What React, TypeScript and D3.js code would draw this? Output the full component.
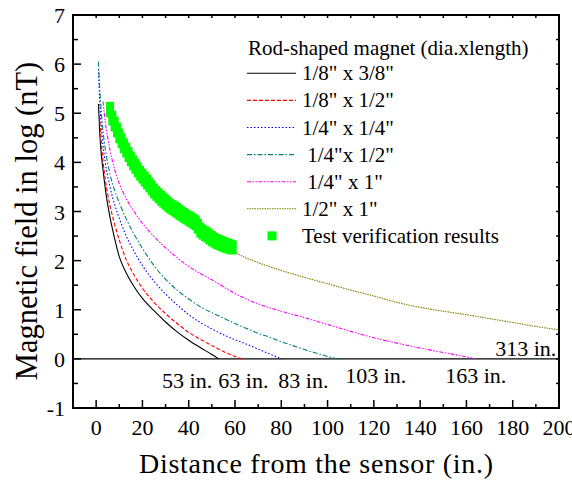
import React from "react";
import * as d3 from "d3";

// ---- data ----
const xTicksMajor = [0, 20, 40, 60, 80, 100, 120, 140, 160, 180, 200];
const yTicksMajor = [-1, 0, 1, 2, 3, 4, 5, 6, 7];

const blackD = [1, 1.5, 2, 3, 4, 6, 8, 10, 13, 16, 20, 25, 30, 35, 40, 45, 50, 53];
const blackV = [5.19, 4.65, 4.28, 3.84, 3.45, 2.88, 2.45, 2.08, 1.75, 1.5, 1.23, 0.98, 0.75, 0.55, 0.38, 0.23, 0.09, 0];

const redD = [1.5, 2, 3, 4, 6, 8, 10, 13, 16, 20, 25, 30, 35, 40, 45, 50, 55, 60, 63];
const redV = [4.95, 4.55, 4.02, 3.64, 3.12, 2.74, 2.42, 2.02, 1.74, 1.44, 1.15, 0.92, 0.72, 0.54, 0.4, 0.27, 0.15, 0.05, 0];

const blueD = [1, 1.5, 2, 3, 4, 6, 8, 10, 13, 16, 20, 25, 30, 35, 40, 45, 50, 55, 60, 65, 70, 75, 80];
const blueV = [5.9, 5.3, 4.9, 4.34, 3.98, 3.5, 3.14, 2.86, 2.5, 2.22, 1.9, 1.58, 1.32, 1.1, 0.9, 0.74, 0.61, 0.49, 0.39, 0.3, 0.2, 0.1, 0];

const tealD = [1, 1.5, 2, 3, 4, 6, 8, 10, 13, 16, 20, 25, 30, 35, 40, 45, 50, 55, 60, 65, 70, 75, 80, 85, 90, 95, 100, 104];
const tealV = [6.05, 5.55, 5.18, 4.62, 4.26, 3.76, 3.43, 3.18, 2.85, 2.57, 2.25, 1.9, 1.62, 1.4, 1.22, 1.06, 0.94, 0.83, 0.72, 0.62, 0.52, 0.44, 0.35, 0.27, 0.19, 0.12, 0.05, 0];

const magentaD = [3, 4, 5, 6, 8, 10, 13, 16, 20, 25, 30, 35, 40, 45, 50, 60, 70, 80, 90, 100, 110, 120, 130, 140, 150, 160, 164];
const magentaV = [5.24, 4.8, 4.5, 4.25, 3.85, 3.57, 3.26, 3.03, 2.76, 2.49, 2.26, 2.06, 1.88, 1.74, 1.61, 1.33, 1.12, 0.97, 0.84, 0.7, 0.56, 0.43, 0.32, 0.22, 0.13, 0.04, 0];

const oliveD = [58, 62, 70, 80, 90, 100, 110, 120, 130, 140, 150, 160, 170, 180, 190, 200];
const oliveV = [2.25, 2.12, 1.96, 1.8, 1.66, 1.53, 1.4, 1.28, 1.15, 1.05, 0.97, 0.9, 0.82, 0.74, 0.66, 0.59];

// test verification results: distance, upper and lower reading at each distance
const testD = [6, 7, 8, 9, 10, 11, 12, 13, 14, 15, 16, 17, 18, 19, 20, 21, 22, 23, 24, 25, 26, 27, 28, 29, 30, 31, 32, 33, 34, 35, 36, 37, 38, 39, 40, 41, 42, 43, 44, 45, 46, 47, 48, 49, 50, 51, 52, 53, 54, 55, 56, 57, 58, 59];
const testHi = [5.15, 4.97, 4.85, 4.73, 4.61, 4.51, 4.41, 4.32, 4.23, 4.14, 4.06, 3.99, 3.92, 3.85, 3.79, 3.73, 3.67, 3.61, 3.55, 3.49, 3.44, 3.39, 3.34, 3.3, 3.26, 3.22, 3.18, 3.15, 3.12, 3.09, 3.05, 3.02, 2.99, 2.96, 2.93, 2.9, 2.87, 2.84, 2.77, 2.69, 2.65, 2.62, 2.59, 2.55, 2.52, 2.49, 2.46, 2.44, 2.42, 2.4, 2.38, 2.37, 2.35, 2.33];
const testLo = [5.0, 4.83, 4.71, 4.59, 4.47, 4.37, 4.27, 4.18, 4.09, 4.0, 3.92, 3.85, 3.78, 3.71, 3.65, 3.59, 3.53, 3.47, 3.41, 3.35, 3.3, 3.25, 3.2, 3.16, 3.12, 3.08, 3.04, 3.01, 2.98, 2.95, 2.91, 2.88, 2.85, 2.82, 2.79, 2.76, 2.73, 2.7, 2.63, 2.55, 2.51, 2.48, 2.45, 2.41, 2.38, 2.35, 2.32, 2.3, 2.28, 2.26, 2.24, 2.23, 2.21, 2.21];

const seriesNames = ['1/8" x 3/8"', '1/8" x 1/2"', '1/4" x 1/4"', ' 1/4"x 1/2"', ' 1/4" x 1"', '1/2" x 1"'];
const legendTitle = "Rod-shaped magnet (dia.xlength)";
const testName = "Test verification results";

const annoText = ["53 in.", "63 in.", "83 in.", "103 in.", "163 in.", "313 in."];
const annoX = [28.5, 52.8, 78.7, 107.6, 150.8, 172.4];
const annoY = [-0.6, -0.6, -0.6, -0.49, -0.49, 0.065];

// ---- styling ----
const W = 572, H = 482;
const L = 73, R = 559, T = 15, B = 408;
const FONT = '"Liberation Serif", "Times New Roman", Times, serif';

const styles = [
  { color: "#000000", dash: "" },
  { color: "#ff0000", dash: "4,2" },
  { color: "#0000ff", dash: "1.5,2" },
  { color: "#008080", dash: "5,2,1.5,2" },
  { color: "#ff00ff", dash: "4,1.5,1.5,1.5,1.5,1.5" },
  { color: "#808000", dash: "1.5,1" },
];

export default function App() {
  const x = d3.scaleLinear().domain([-10, 200]).range([L, R]);
  const y = d3.scaleLinear().domain([-1, 7]).range([B, T]);
  const line = d3
    .line<[number, number]>()
    .x((p) => x(p[0]))
    .y((p) => y(p[1]))
    .curve(d3.curveMonotoneX);

  const series: [number[], number[]][] = [
    [blackD, blackV],
    [redD, redV],
    [blueD, blueV],
    [tealD, tealV],
    [magentaD, magentaV],
    [oliveD, oliveV],
  ];

  const xMinor = d3.range(10, 200, 20);
  const yMinor = d3.range(-0.5, 7, 1);
  const xAll = d3.range(0, 201, 10);
  const yAll = d3.range(-1, 7.01, 0.5);

  const legX0 = 247, legX1 = 296, legTxt = 302, legY0 = 73.3, legDy = 27.1;
  const sq = 8;

  return (
    <svg width={W} height={H} style={{ position: "absolute", left: 0, top: 0, background: "#fff" }} fontFamily={FONT}>
      <defs>
        <clipPath id="plot">
          <rect x={L} y={T} width={R - L} height={B - T} />
        </clipPath>
      </defs>

      {/* zero line */}
      <line x1={L} x2={R} y1={y(0)} y2={y(0)} stroke="#000" strokeWidth={1.3} />

      {/* curves */}
      <g clipPath="url(#plot)">
        {series.map(([ds, vs], i) => (
          <path
            key={i}
            d={line(ds.map((d, j) => [d, vs[j]] as [number, number])) || ""}
            fill="none"
            stroke={styles[i].color}
            strokeWidth={1.1}
            strokeDasharray={styles[i].dash}
          />
        ))}
        {testD.map((d, i) => (
          <g key={i}>
            <rect x={x(d) - sq / 2} y={y(testHi[i]) - sq / 2} width={sq} height={sq} fill="#00ff00" />
            <rect x={x(d) - sq / 2} y={y(testLo[i]) - sq / 2} width={sq} height={sq} fill="#00ff00" />
          </g>
        ))}
      </g>

      {/* frame */}
      <rect x={L} y={T} width={R - L} height={B - T} fill="none" stroke="#000" strokeWidth={2} />

      {/* bottom ticks */}
      {xTicksMajor.map((t) => (
        <line key={"xb" + t} x1={x(t)} x2={x(t)} y1={B} y2={B - 8} stroke="#000" strokeWidth={1.5} />
      ))}
      {xMinor.map((t) => (
        <line key={"xm" + t} x1={x(t)} x2={x(t)} y1={B} y2={B - 4} stroke="#000" strokeWidth={1.5} />
      ))}
      {/* top ticks */}
      {xAll.map((t) => (
        <line key={"xt" + t} x1={x(t)} x2={x(t)} y1={T} y2={T + 3} stroke="#000" strokeWidth={1.5} />
      ))}
      {/* left ticks */}
      {yTicksMajor.map((t) => (
        <line key={"yl" + t} x1={L} x2={L + 8} y1={y(t)} y2={y(t)} stroke="#000" strokeWidth={1.5} />
      ))}
      {yMinor.map((t) => (
        <line key={"ym" + t} x1={L} x2={L + 5} y1={y(t)} y2={y(t)} stroke="#000" strokeWidth={1.5} />
      ))}
      {/* right ticks */}
      {yAll.map((t) => (
        <line key={"yr" + t} x1={R} x2={R - 3} y1={y(t)} y2={y(t)} stroke="#000" strokeWidth={1.5} />
      ))}

      {/* tick labels */}
      {xTicksMajor.map((t) => (
        <text key={"xl" + t} x={x(t)} y={435} textAnchor="middle" fontSize={22}>
          {t}
        </text>
      ))}
      {yTicksMajor.map((t) => (
        <text key={"ylb" + t} x={65} y={y(t) + 8} textAnchor="end" fontSize={22}>
          {t}
        </text>
      ))}

      {/* axis titles */}
      <text x={316} y={473} textAnchor="middle" fontSize={28} textLength={354} lengthAdjust="spacing">
        Distance from the sensor (in.)
      </text>
      <text transform={`translate(37, 221) rotate(-90)`} textAnchor="middle" fontSize={30.5}>
        Magnetic field in log (nT)
      </text>

      {/* annotations */}
      {annoText.map((s, i) => (
        <text key={"a" + i} x={x(annoX[i])} y={y(annoY[i])} fontSize={22}>
          {s}
        </text>
      ))}

      {/* legend */}
      <text x={248} y={55} fontSize={21}>
        {legendTitle}
      </text>
      {seriesNames.map((s, i) => (
        <g key={"lg" + i}>
          <line
            x1={legX0}
            x2={legX1}
            y1={legY0 + i * legDy}
            y2={legY0 + i * legDy}
            stroke={styles[i].color}
            strokeWidth={1.1}
            strokeDasharray={styles[i].dash}
          />
          <text x={legTxt} y={legY0 + i * legDy + 7} fontSize={21} style={{ whiteSpace: "pre" }}>
            {s}
          </text>
        </g>
      ))}
      <rect x={267.5} y={legY0 + 6 * legDy - 4.5} width={9} height={9} fill="#00ff00" />
      <text x={legTxt} y={legY0 + 6 * legDy + 7} fontSize={21}>
        {testName}
      </text>
    </svg>
  );
}
